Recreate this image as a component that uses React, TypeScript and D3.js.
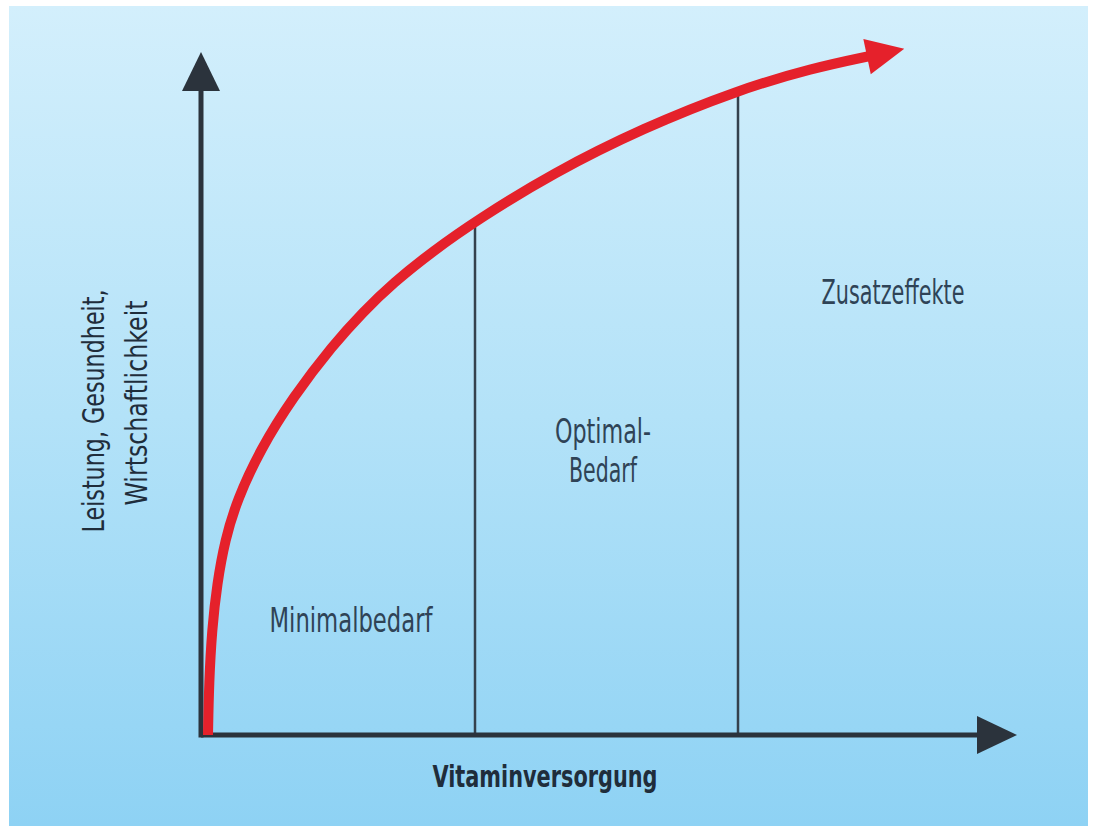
import React, { useEffect, useRef } from "react";
import * as d3 from "d3";

// curve (arbitrary units, origin at the axes corner)
const supply = [5, 6, 9, 14, 22, 34, 57, 90, 130, 160, 190, 230, 274, 350, 440, 535, 610, 667];
const performance = [0, 52, 106, 151, 195, 235, 285, 338, 390, 423, 452, 484, 515, 562, 607, 645, 667, 679];

// borders between the three zones on the x axis
const zoneBorders = [272, 535];

const zoneLabels = [
  { lines: ["Minimalbedarf"], x: 148, y: 103, len: [163] },
  { lines: ["Optimal-", "Bedarf"], x: 400, y: 292, len: [96, 68] },
  { lines: ["Zusatzeffekte"], x: 690, y: 431, len: [143] },
];

const yLabel = ["Leistung, Gesundheit,", "Wirtschaftlichkeit"];
const xLabel = "Vitaminversorgung";

const axisEnd = { x: 814, y: 683 };

const W = 1095;
const H = 826;

export default function App() {
  const ref = useRef<SVGSVGElement>(null);

  useEffect(() => {
    const svg = d3.select(ref.current);
    svg.selectAll("*").remove();

    const x = d3.scaleLinear().domain([0, 800]).range([203, 1003]);
    const y = d3.scaleLinear().domain([0, 700]).range([735, 35]);

    const defs = svg.append("defs");
    const grad = defs
      .append("linearGradient")
      .attr("id", "bg")
      .attr("x1", 0)
      .attr("y1", 0)
      .attr("x2", 0)
      .attr("y2", 1);
    grad.append("stop").attr("offset", "0%").attr("stop-color", "#d3effc");
    grad.append("stop").attr("offset", "50%").attr("stop-color", "#b3e2f8");
    grad.append("stop").attr("offset", "100%").attr("stop-color", "#8ed2f4");

    svg
      .append("rect")
      .attr("x", 9)
      .attr("y", 6)
      .attr("width", 1079)
      .attr("height", H - 6)
      .attr("fill", "url(#bg)");

    const font = "'Liberation Sans Narrow', 'DejaVu Sans Condensed', 'Arial Narrow', sans-serif";
    const axisColor = "#2b333c";

    const pts: [number, number][] = supply.map((s, i) => [s, performance[i]]);

    // curve value at a given supply (linear between read points)
    const perfAt = (s: number) => {
      for (let i = 1; i < pts.length; i++) {
        if (pts[i][0] >= s && pts[i - 1][0] <= s) {
          const t = (s - pts[i - 1][0]) / (pts[i][0] - pts[i - 1][0]);
          return pts[i - 1][1] + t * (pts[i][1] - pts[i - 1][1]);
        }
      }
      return 0;
    };

    // zone borders
    svg
      .selectAll(".zone")
      .data(zoneBorders)
      .join("line")
      .attr("x1", (d) => x(d))
      .attr("x2", (d) => x(d))
      .attr("y1", y(0))
      .attr("y2", (d) => y(perfAt(d)))
      .attr("stroke", "#34414d")
      .attr("stroke-width", 2.5);

    // axes
    svg
      .append("line")
      .attr("x1", x(0) - 2)
      .attr("x2", x(axisEnd.x) - 36)
      .attr("y1", y(0))
      .attr("y2", y(0))
      .attr("stroke", axisColor)
      .attr("stroke-width", 5);
    svg
      .append("path")
      .attr(
        "d",
        `M${x(axisEnd.x)},${y(0)} L${x(axisEnd.x) - 40},${y(0) - 19} L${x(axisEnd.x) - 40},${y(0) + 19} Z`
      )
      .attr("fill", axisColor);

    svg
      .append("line")
      .attr("x1", x(0) - 2)
      .attr("x2", x(0) - 2)
      .attr("y1", y(0) + 2.5)
      .attr("y2", y(axisEnd.y) + 36)
      .attr("stroke", axisColor)
      .attr("stroke-width", 5);
    svg
      .append("path")
      .attr(
        "d",
        `M${x(0) - 2},${y(axisEnd.y)} L${x(0) - 21},${y(axisEnd.y) + 39} L${x(0) + 17},${y(axisEnd.y) + 39} Z`
      )
      .attr("fill", axisColor);

    // red curve
    const red = "#e5212b";
    const line = d3
      .line<[number, number]>()
      .x((d) => x(d[0]))
      .y((d) => y(d[1]))
      .curve(d3.curveBasis);

    svg
      .append("path")
      .datum(pts)
      .attr("d", line)
      .attr("fill", "none")
      .attr("stroke", red)
      .attr("stroke-width", 10);

    const [ax, ay] = pts[pts.length - 2];
    const [bx, by] = pts[pts.length - 1];
    const dx = x(bx) - x(ax);
    const dy = y(by) - y(ay);
    const l = Math.hypot(dx, dy);
    const ux = dx / l;
    const uy = dy / l;
    const ex = x(bx) - ux * 3;
    const ey = y(by) - uy * 3;
    const tip = [ex + ux * 38, ey + uy * 38];
    svg
      .append("path")
      .attr(
        "d",
        `M${tip[0]},${tip[1]} L${ex - uy * 18},${ey + ux * 18} L${ex + uy * 18},${ey - ux * 18} Z`
      )
      .attr("fill", red);

    // zone labels
    zoneLabels.forEach((z) => {
      z.lines.forEach((t, i) => {
        svg
          .append("text")
          .attr("x", x(z.x))
          .attr("y", y(z.y) + i * 39)
          .attr("text-anchor", "middle")
          .attr("font-family", font)
          .attr("font-size", 33)
          .attr("fill", "#2f4356")
          .attr("textLength", z.len[i])
          .attr("lengthAdjust", "spacingAndGlyphs")
          .text(t);
      });
    });

    // axis titles
    svg
      .append("text")
      .attr("x", 545)
      .attr("y", 787)
      .attr("text-anchor", "middle")
      .attr("font-family", font)
      .attr("font-weight", "bold")
      .attr("font-size", 31)
      .attr("fill", "#1f2d3b")
      .attr("textLength", 225)
      .attr("lengthAdjust", "spacingAndGlyphs")
      .text(xLabel);

    const yLens = [243, 205];
    const yBase = [104, 147];
    yLabel.forEach((t, i) => {
      svg
        .append("text")
        .attr("transform", `translate(${yBase[i]},${[411, 403][i]}) rotate(-90)`)
        .attr("text-anchor", "middle")
        .attr("font-family", font)
        .attr("font-size", 31)
        .attr("fill", "#1f2d3b")
        .attr("textLength", yLens[i])
        .attr("lengthAdjust", "spacingAndGlyphs")
        .text(t);
    });
  }, []);

  return (
    <svg
      ref={ref}
      width={W}
      height={H}
      style={{ position: "absolute", left: 0, top: 0, background: "#fff" }}
    />
  );
}
